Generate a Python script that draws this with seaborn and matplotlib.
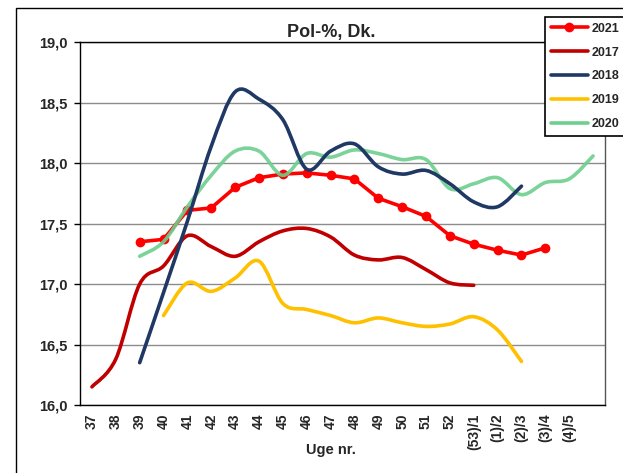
import numpy as np
import matplotlib
matplotlib.use("Agg")
import matplotlib.pyplot as plt
from matplotlib.path import Path
from matplotlib.patches import PathPatch, Rectangle
from matplotlib.lines import Line2D
import seaborn as sns

nan = np.nan

# uge-numre (sidste kategori uden etiket)
weeks = ['37', '38', '39', '40', '41', '42', '43', '44', '45', '46', '47', '48',
         '49', '50', '51', '52', '(53)/1', '(1)/2', '(2)/3', '(3)/4', '(4)/5', '']

pol_2021 = [nan, nan, 17.35, 17.37, 17.61, 17.63, 17.80, 17.88, 17.91, 17.92, 17.90,
            17.87, 17.71, 17.64, 17.56, 17.40, 17.33, 17.28, 17.24, 17.30, nan, nan]
pol_2017 = [16.15, 16.38, 17.00, 17.15, 17.40, 17.31, 17.23, 17.35, 17.44, 17.46, 17.39,
            17.24, 17.20, 17.22, 17.12, 17.01, 16.99, nan, nan, nan, nan, nan]
pol_2018 = [nan, nan, 16.35, 16.93, 17.52, 18.14, 18.59, 18.53, 18.36, 17.95, 18.10,
            18.16, 17.97, 17.91, 17.94, 17.83, 17.68, 17.64, 17.81, nan, nan, nan]
pol_2019 = [nan, nan, nan, 16.74, 17.01, 16.94, 17.05, 17.19, 16.84, 16.79, 16.74,
            16.68, 16.72, 16.68, 16.65, 16.67, 16.73, 16.62, 16.36, nan, nan, nan]
pol_2020 = [nan, nan, 17.23, 17.35, 17.64, 17.90, 18.10, 18.10, 17.90, 18.08, 18.05,
            18.11, 18.08, 18.03, 18.03, 17.79, 17.83, 17.88, 17.74, 17.84, 17.87, 18.06]

y_ticks = [16.0, 16.5, 17.0, 17.5, 18.0, 18.5, 19.0]
y_labels = ['16,0', '16,5', '17,0', '17,5', '18,0', '18,5', '19,0']

colors = {'2021': '#FF0000', '2017': '#C00000', '2018': '#1F3864',
          '2019': '#FFC000', '2020': '#6ECF8E'}

sns.set_theme(style='white')
plt.rcParams['font.family'] = ['Liberation Sans', 'DejaVu Sans']
plt.rcParams['font.weight'] = 'bold'

fig = plt.figure(figsize=(6.23, 4.73), dpi=100)
ax = fig.add_axes([80 / 623, 1 - 405 / 473, 525 / 623, (405 - 42.3) / 473])

x = np.arange(len(weeks))


def smooth_path(xs, ys):
    # glat kurve gennem punkterne (som Excel "udjævnet linje")
    pts = np.column_stack([xs, ys])
    n = len(pts)
    verts = [pts[0]]
    codes = [Path.MOVETO]
    for i in range(n - 1):
        p0 = pts[i - 1] if i > 0 else pts[i]
        p1 = pts[i]
        p2 = pts[i + 1]
        p3 = pts[i + 2] if i + 2 < n else pts[i + 1]
        verts += [p1 + (p2 - p0) / 6, p2 - (p3 - p1) / 6, p2]
        codes += [Path.CURVE4] * 3
    return Path(verts, codes)


# 2021 med punkter
y21 = np.array(pol_2021)
m = ~np.isnan(y21)
sns.lineplot(x=x[m], y=y21[m], ax=ax, color=colors['2021'], lw=2.6,
             marker='o', markersize=7, markeredgewidth=0, zorder=2, legend=False)

series = [('2017', pol_2017, 3), ('2019', pol_2019, 3), ('2020', pol_2020, 4), ('2018', pol_2018, 5)]
for name, vals, z in series:
    v = np.array(vals)
    mk = ~np.isnan(v)
    ax.add_patch(PathPatch(smooth_path(x[mk], v[mk]), fill=False, edgecolor=colors[name],
                           lw=2.6, zorder=z, capstyle='round', joinstyle='round',
                           alpha=0.9 if name == '2020' else 1.0))

ax.set_xlim(-0.5, len(weeks) - 0.5)
ax.set_ylim(16.0, 19.0)

ax.set_yticks(y_ticks)
ax.set_yticklabels(y_labels, fontsize=10.5, fontweight='bold')
ax.set_xticks(x)
ax.set_xticklabels(weeks, rotation=90, fontsize=10, fontweight='bold')
ax.set_xticks(np.arange(-0.5, len(weeks)), minor=True)
ax.tick_params(axis='x', which='major', length=0, pad=6)
ax.tick_params(axis='x', which='minor', length=8, width=1, direction='inout', color='black')
ax.tick_params(axis='y', length=4.5, width=1, direction='out', color='black', pad=4.5, left=True)

ax.yaxis.grid(True, color='#8c8c8c', lw=1)
ax.xaxis.grid(False)
for s in ax.spines.values():
    s.set_visible(True)
    s.set_color('black')
    s.set_linewidth(1)
ax.spines['right'].set_color('#555555')

ax.set_xlabel('Uge nr.', fontsize=10.5, fontweight='bold')
ax.xaxis.set_label_coords(10.5 / 22, -0.105)
ax.set_ylabel('')
fig.text(331 / 623, 1 - 33 / 473, 'Pol-%, Dk.', ha='center', va='center',
         fontsize=13, fontweight='bold')

# ydre ramme
fig.patches.append(Rectangle((16 / 623, -0.1), 1.2, 0.1 + (473 - 8) / 473, fill=False,
                             edgecolor='black', lw=1, transform=fig.transFigure))

handles = [Line2D([], [], color=colors['2021'], lw=2.6, marker='o', markersize=7, markeredgewidth=0)]
handles += [Line2D([], [], color=colors[k], lw=2.6) for k in ['2017', '2018', '2019', '2020']]
leg = fig.legend(handles, ['2021', '2017', '2018', '2019', '2020'],
                 loc='upper left', bbox_to_anchor=(545 / 623, 1 - 17 / 473),
                 frameon=True, fancybox=False, framealpha=1, edgecolor='black',
                 fontsize=9, handlelength=3.0, handletextpad=0.25, labelspacing=0.95,
                 borderpad=0.45, borderaxespad=0)
leg.get_frame().set_linewidth(1.2)
for t in leg.get_texts():
    t.set_fontweight('bold')

plt.savefig('out.png', dpi=100)
